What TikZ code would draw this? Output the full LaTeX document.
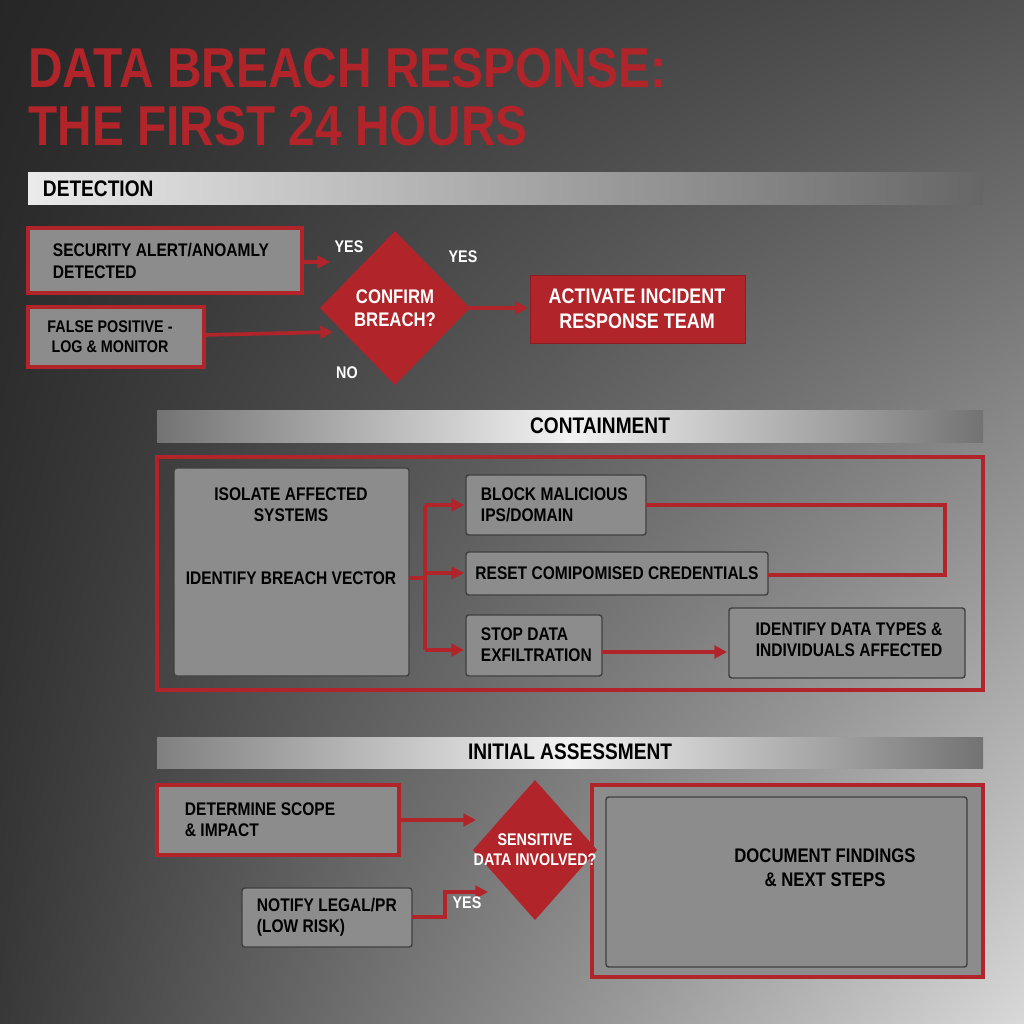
\documentclass[tikz,border=0pt]{standalone}
\usepackage{fontspec}
\setmainfont{Liberation Sans}[FakeStretch=0.85]
\usetikzlibrary{shapes.geometric,arrows.meta,shadings}
\definecolor{rd}{HTML}{B0242A}
\definecolor{bx}{HTML}{8C8C8C}
\begin{document}
\begin{tikzpicture}[x=0.025cm,y=-0.025cm,
 txt/.style={font=\bfseries\fontsize{13}{15}\selectfont,text=black,align=center},
 rbox/.style={draw=rd,line width=2.2pt,fill=bx},
 gbox/.style={draw=black!75,line width=1pt,fill=bx,rounded corners=2pt},
 arr/.style={draw=rd,line width=2.6pt,-{Triangle[length=9pt,width=9pt]}},
 ln/.style={draw=rd,line width=2.6pt},
 lab/.style={font=\bfseries\fontsize{12}{14}\selectfont,text=white}]
\useasboundingbox (0,0) rectangle (1024,1024);
\shade[upper left=black!85,upper right=black!68,lower left=black!78,lower right=black!15] (0,0) rectangle (1024,1024);
% title
\node[anchor=north west,inner sep=0,font=\bfseries\fontsize{40}{41}\selectfont,text=rd,align=left] (title) at (28,48) {DATA BREACH RESPONSE:\\THE FIRST 24 HOURS};
% bars
\shade[left color=black!8,right color=black!60] (28,173) rectangle (983,205);
\node[anchor=west,font=\bfseries\fontsize{16}{18}\selectfont] (sd) at (38,189) {DETECTION};
\shade[left color=black!55,right color=black!5] (157,410) rectangle (570,442);
\shade[left color=black!5,right color=black!55] (570,410) rectangle (983,442);
\node[font=\bfseries\fontsize{16}{18}\selectfont] (sc) at (600,426) {CONTAINMENT};
\shade[left color=black!50,right color=black!5] (157,737) rectangle (570,768);
\shade[left color=black!5,right color=black!55] (570,737) rectangle (983,768);
\node[font=\bfseries\fontsize{16}{18}\selectfont] (sa) at (570,752) {INITIAL ASSESSMENT};
% detection
\draw[rbox] (28,228) rectangle (302,293);
\node[txt,align=left,anchor=west] (at) at (48,261) {SECURITY ALERT/ANOAMLY\\DETECTED};
\draw[rbox] (28,307) rectangle (204,367);
\node[txt,font=\bfseries\fontsize{12}{14}\selectfont] (bt) at (110,337) {FALSE POSITIVE -\\LOG \& MONITOR};
\fill[rd] (395,231) -- (470,308) -- (395,385) -- (320,308) -- cycle;
\node[txt,text=white,font=\bfseries\fontsize{14}{16}\selectfont] (d1t) at (395,308) {CONFIRM\\BREACH?};
\draw[arr] (302,262) -- (330,262);
\draw[arr] (204,335) -- (333,332);
\draw[arr] (470,308) -- (528,308);
\draw[fill=rd,draw=rd!80!black] (530,275) rectangle (745,343);
\node[txt,text=white,font=\bfseries\fontsize{15}{18}\selectfont] (act) at (637,309) {ACTIVATE INCIDENT\\RESPONSE TEAM};
\node[lab] (y1) at (349,247) {YES};
\node[lab] (y2) at (463,257) {YES};
\node[lab] (n1) at (347,373) {NO};
% containment
\draw[draw=rd,line width=2.2pt] (157,457) rectangle (983,690);
\draw[gbox] (174,468) rectangle (409,676);
\node[txt] (iso) at (291,505) {ISOLATE AFFECTED\\SYSTEMS};
\node[txt] (ibv) at (291,578) {IDENTIFY BREACH VECTOR};
\draw[ln] (409,578) -- (425,578);
\draw[ln] (425,505) -- (425,650);
\draw[arr] (425,505) -- (464,505);
\draw[arr] (425,573) -- (464,573);
\draw[arr] (425,650) -- (464,650);
\draw[gbox] (466,475) rectangle (646,535);
\node[txt,align=left,anchor=west] (blk) at (476,505) {BLOCK MALICIOUS\\IPS/DOMAIN};
\draw[gbox] (466,552) rectangle (768,595);
\node[txt] (rst) at (617,573) {RESET COMIPOMISED CREDENTIALS};
\draw[gbox] (466,615) rectangle (602,676);
\node[txt,align=left,anchor=west] (stp) at (476,645) {STOP DATA\\EXFILTRATION};
\draw[gbox] (729,608) rectangle (965,678);
\node[txt] (idt) at (849,640) {IDENTIFY DATA TYPES \&\\INDIVIDUALS AFFECTED};
\draw[ln] (646,505) -- (945,505) -- (945,575) -- (768,575);
\draw[arr] (602,652) -- (727,652);
% assessment
\draw[rbox] (157,785) rectangle (399,855);
\node[txt,align=left,anchor=west] (det) at (180,820) {DETERMINE SCOPE\\\& IMPACT};
\draw[gbox] (242,888) rectangle (412,947);
\node[txt,align=left,anchor=west] (ntf) at (252,917) {NOTIFY LEGAL/PR\\(LOW RISK)};
\draw[rbox] (592,785) rectangle (983,977);
\draw[gbox,fill=black!45] (606,797) rectangle (967,967);
\node[txt,font=\bfseries\fontsize{14}{17}\selectfont] (doc) at (825,868) {DOCUMENT FINDINGS\\\& NEXT STEPS};
\fill[rd] (535,780) -- (597,850) -- (535,920) -- (473,850) -- cycle;
\node[txt,text=white,font=\bfseries\fontsize{12}{14}\selectfont] (d2t) at (535,850) {SENSITIVE\\DATA INVOLVED?};
\draw[arr] (399,820) -- (476,820);
\draw[arr] (412,917) -- (445,917) -- (445,892) -- (488,892);
\node[lab] (y3) at (467,903) {YES};
\end{tikzpicture}
\end{document}
